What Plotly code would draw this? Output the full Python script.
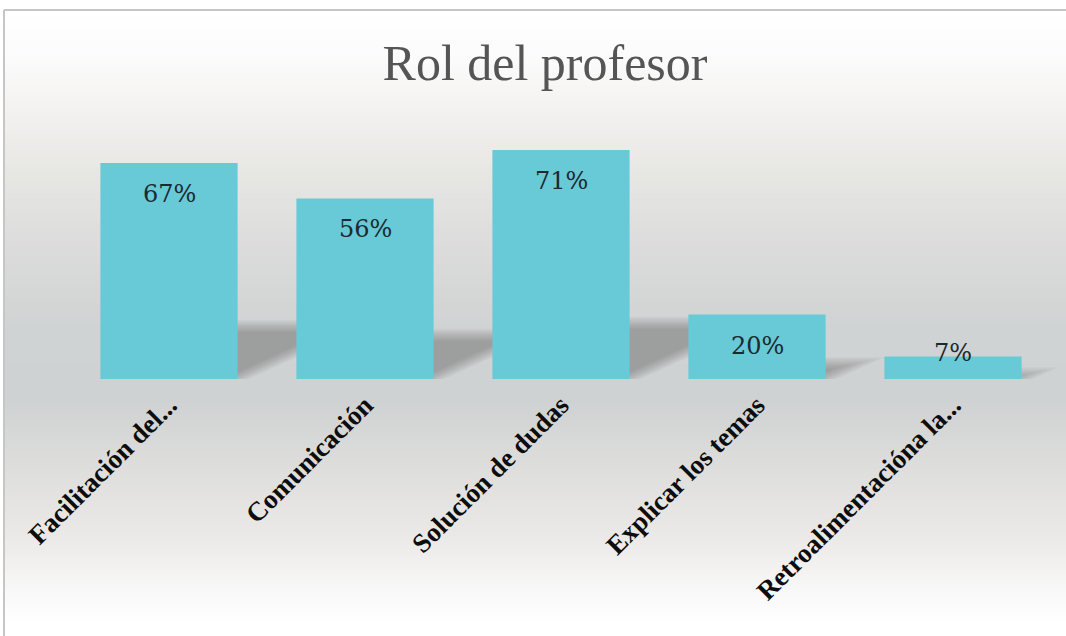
import numpy as np
import plotly.graph_objects as go

categories = ["Facilitación del...", "Comunicación", "Solución de dudas",
              "Explicar los temas", "Retroalimentacióna la..."]
values = [0.67, 0.56, 0.71, 0.20, 0.07]
labels = ["67%", "56%", "71%", "20%", "7%"]
title_text = "Rol del profesor"

W, H = 1066, 636
L, R, T, B = 71, 15, 121, 257
YMAX = 0.8
pw = W - L - R
ph = H - T - B
base_py = H - B
cat_px = pw / len(categories)
BAR_W = 0.7
BAR_COLOR = "#68C9D7"


def pxx(px):
    return (px - L) / pw


def pyy(py):
    return (base_py - py) / ph


shapes = []

# background vertical gradient (inside the chart border)
stops_y = [10, 60, 115, 170, 250, 330, 400, 480, 540, 590, 625, 636]
stops_c = [(255, 255, 255), (251, 251, 251), (243, 241, 239), (231, 231, 228),
           (219, 219, 219), (208, 211, 211), (207, 210, 210), (224, 224, 222),
           (236, 234, 232), (248, 248, 248), (255, 255, 255), (255, 255, 255)]
step = 3
for y0 in range(10, 636, step):
    ym = y0 + step / 2
    c = [int(round(np.interp(ym, stops_y, [s[k] for s in stops_c]))) for k in range(3)]
    shapes.append(dict(type="rect", xref="paper", yref="paper", layer="below",
                       x0=pxx(4), x1=pxx(W + 2), y0=pyy(y0), y1=pyy(min(y0 + step + 0.6, H)),
                       fillcolor="rgb(%d,%d,%d)" % tuple(c), line=dict(width=0)))

# chart border: left and top edges
shapes.append(dict(type="line", xref="paper", yref="paper", layer="below",
                   x0=pxx(4), x1=pxx(4), y0=pyy(10), y1=pyy(H),
                   line=dict(color="#c6c6c6", width=2)))
shapes.append(dict(type="line", xref="paper", yref="paper", layer="below",
                   x0=pxx(4), x1=pxx(W), y0=pyy(10), y1=pyy(10),
                   line=dict(color="#c6c6c6", width=2)))

# soft perspective shadows to the right of each bar
SLOPE = 2.2
for i, v in enumerate(values):
    hb = v / YMAX * ph
    hs = 0.245 * hb
    xr = L + (i + 0.5 + BAR_W / 2) * cat_px - 2
    top = base_py - hs
    for d in np.linspace(-6, 6, 11):
        if hs + 2 * d <= 0:
            continue
        xt = xr + SLOPE * (hs + 2 * d)
        if d >= 0:
            pts = [(xr, top - d), (xt, top - d), (xr + SLOPE * d, base_py), (xr, base_py)]
        else:
            pts = [(xr, top - d), (xt, top - d), (xr, base_py + d)]
        path = "M " + " L ".join("%f %f" % (pxx(px), pyy(py)) for px, py in pts) + " Z"
        shapes.append(dict(type="path", xref="paper", yref="paper", layer="below", path=path,
                           fillcolor="rgba(70,72,74,0.04)", line=dict(width=0)))

fig = go.Figure()
fig.add_trace(go.Bar(x=categories, y=values, marker=dict(color=BAR_COLOR, line=dict(width=0)),
                     width=BAR_W, hoverinfo="skip"))

annotations = []
for i, (c, v, t) in enumerate(zip(categories, values, labels)):
    annotations.append(dict(x=c, y=v, xref="x", yref="y", text=t, showarrow=False,
                            yanchor="middle", yshift=(-31 if v > 0.15 else 3),
                            font=dict(family="DejaVu Serif", size=24, color="#1b2a30")))

fig.update_layout(
    width=W, height=H,
    margin=dict(l=L, r=R, t=T, b=B),
    paper_bgcolor="white", plot_bgcolor="rgba(0,0,0,0)",
    showlegend=False,
    bargap=1 - BAR_W,
    title=dict(text=title_text, x=545 / W, xanchor="center", xref="container",
               y=1 - 62 / H, yanchor="middle", yref="container",
               font=dict(family="Liberation Serif", size=50, color="#555555")),
    xaxis=dict(tickangle=-45, showgrid=False, zeroline=False, showline=False, ticks="",
               ticklabelstandoff=4,
               tickfont=dict(family="Liberation Serif", size=27, color="#0d0d0d", weight="bold")),
    yaxis=dict(range=[0, YMAX], visible=False, showgrid=False, zeroline=False),
    shapes=shapes,
    annotations=annotations,
)

fig.write_html("out.html")
